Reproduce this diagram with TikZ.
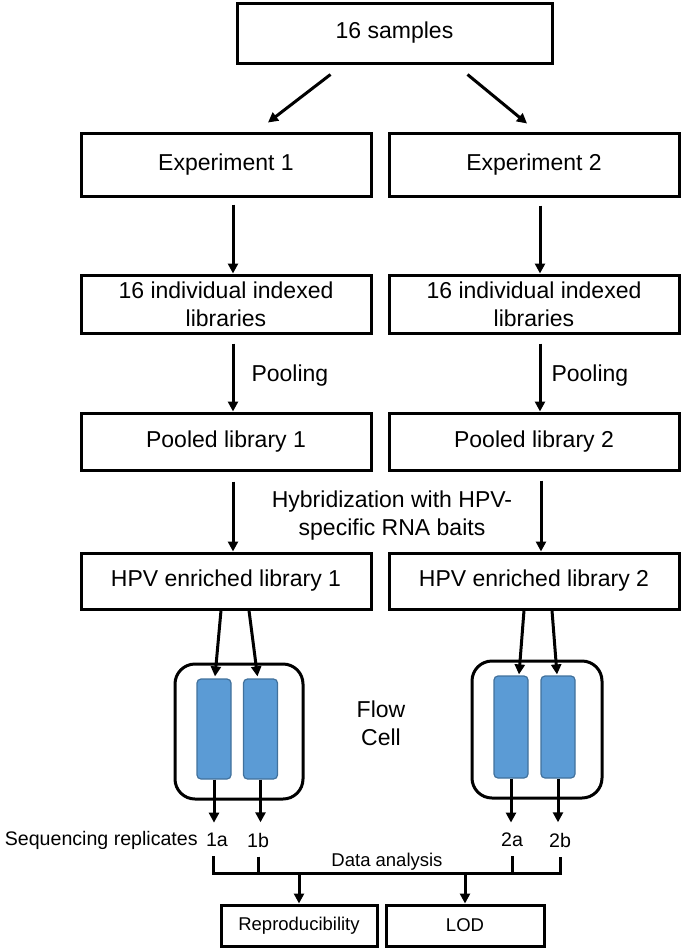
\documentclass[tikz,border=0pt]{standalone}
\usepackage{fontspec}
\setmainfont{Liberation Sans}
\usetikzlibrary{arrows.meta,calc,positioning}

\newcommand{\bigsize}{\fontsize{11.5}{14}\selectfont}
\newcommand{\midsize}{\fontsize{9.8}{12}\selectfont}
\newcommand{\smallsize}{\fontsize{9.25}{11}\selectfont}
\definecolor{lanefill}{RGB}{91,155,213}
\definecolor{lanedge}{RGB}{65,113,156}

\tikzset{
  box/.style={draw,line width=1.5pt,inner sep=0pt,align=center,font=\bigsize},
  note/.style={inner sep=0pt,align=center,font=\bigsize},
  lbl/.style={inner sep=1.5pt,font=\midsize},
  cell/.style={draw,line width=1.5pt,rounded corners=10pt},
  lane/.style={draw=lanedge,fill=lanefill,line width=0.6pt,rounded corners=2pt,minimum width=17pt,minimum height=50pt,inner sep=0pt},
}

\begin{document}
\begin{tikzpicture}[x=0.5pt,y=-0.5pt,>={Triangle[length=5pt,width=5pt]},line width=1.5pt]
\useasboundingbox (0,0) rectangle (685,948);
% boxes of the two experiments
\node[box,minimum width=157.5pt,minimum height=30pt] (samples) at (394.5,33) {16 samples};
\node[box,minimum width=145pt,minimum height=31.5pt] (exp1) at (226,164.5) {Experiment 1};
\node[box,minimum width=145pt,minimum height=31.5pt] (exp2) at (534,164.5) {Experiment 2};
\node[box,minimum width=145pt,minimum height=29pt] (lib1) at (226,304) {16 individual indexed\\libraries};
\node[box,minimum width=145pt,minimum height=29pt] (lib2) at (534,304) {16 individual indexed\\libraries};
\node[box,minimum width=145pt,minimum height=28.5pt] (pool1) at (226,441.5) {Pooled library 1};
\node[box,minimum width=145pt,minimum height=28.5pt] (pool2) at (534,441.5) {Pooled library 2};
\node[box,minimum width=145pt,minimum height=28pt] (hpv1) at (226,581) {HPV enriched library 1};
\node[box,minimum width=145pt,minimum height=28pt] (hpv2) at (534,581) {HPV enriched library 2};
\node[note,anchor=west] (poolingA) at (250,376) {Pooling};
\node[note,anchor=west] (poolingB) at (550,376) {Pooling};
\node[note] (hyb) at (392,516) {Hybridization with HPV-\\specific RNA baits};
\draw[->] ([xshift=-32pt,yshift=-5pt]samples.south) -- ([xshift=21pt,yshift=4.5pt]exp1.north);
\draw[->] ([xshift=36.5pt,yshift=-5pt]samples.south) -- ([xshift=-3.5pt,yshift=4pt]exp2.north);
\draw[->] ([xshift=3.5pt,yshift=-3.5pt]exp1.south) -- ([xshift=3.5pt]lib1.north);
\draw[->] ([xshift=3pt,yshift=-4pt]exp2.south) -- ([xshift=3pt]lib2.north);
\draw[->] ([xshift=3.5pt,yshift=-4.5pt]lib1.south) -- ([xshift=3.5pt]pool1.north);
\draw[->] ([xshift=3pt,yshift=-4.5pt]lib2.south) -- ([xshift=3pt]pool2.north);
\draw[->] ([xshift=3.5pt,yshift=-5pt]pool1.south) -- ([xshift=3.5pt]hpv1.north);
\draw[->] ([xshift=3.5pt,yshift=-4.5pt]pool2.south) -- ([xshift=3.5pt]hpv2.north);
% flow cells
\node[cell,minimum width=64pt,minimum height=67.5pt] (cell1) at (239,731.5) {};
\node[cell,minimum width=65pt,minimum height=68.5pt] (cell2) at (537,729.5) {};
\node[lane] (lane1a) at (214,729) {};
\node[lane] (lane1b) at (260.5,729) {};
\node[lane,minimum height=51pt] (lane2a) at (511,727) {};
\node[lane,minimum height=51pt] (lane2b) at (558,727) {};
\node[note] (flow) at (381,723.5) {Flow\\Cell};
\draw[->] ([xshift=-2.5pt]hpv1.south) -- ([xshift=0.5pt,yshift=1pt]lane1a.north);
\draw[->] ([xshift=11.5pt]hpv1.south) -- ([xshift=-1.5pt,yshift=1pt]lane1b.north);
\draw[->] ([xshift=-5pt]hpv2.south) -- ([xshift=4pt,yshift=0.5pt]lane2a.north);
\draw[->] ([xshift=9pt]hpv2.south) -- ([xshift=-0.5pt,yshift=0.5pt]lane2b.north);
% replicates and analysis
\node[lbl] (r1a) at (217,840) {1a};
\node[lbl,inner sep=0pt,left=1.2pt of r1a] (seq) {Sequencing replicates};
\node[lbl] (r1b) at (258,840) {1b};
\node[lbl] (r2a) at (512,840) {2a};
\node[lbl] (r2b) at (560,840) {2b};
\draw[->,shorten >=3pt] (lane1a.south) -- (lane1a.south |- r1a.north);
\draw[->,shorten >=3pt] (lane1b.south) -- (lane1b.south |- r1b.north);
\draw[->,shorten >=3pt] (lane2a.south) -- (lane2a.south |- r2a.north);
\draw[->,shorten >=3pt] (lane2b.south) -- (lane2b.south |- r2b.north);
\coordinate (bus) at (0,873);
\draw ([xshift=-2pt,yshift=-2.5pt]r1a.south) -- ([xshift=-2pt]r1a.south |- bus) -- (r2b.south |- bus) -- ([yshift=-2.5pt]r2b.south);
\draw ([yshift=-2.5pt]r1b.south) -- (r1b.south |- bus);
\draw ([yshift=-2.5pt]r2a.south) -- (r2a.south |- bus);
\node[note,font=\smallsize] (data) at (387,862) {Data analysis};
\node[box,font=\smallsize,minimum width=78pt,minimum height=20.5pt] (repro) at (299,925.5) {Reproducibility};
\node[box,font=\smallsize,minimum width=79pt,minimum height=20.5pt] (lod) at (465,925.5) {LOD};
\draw[->] (repro.north |- bus) -- (repro.north);
\draw[->] (lod.north |- bus) -- (lod.north);
\end{tikzpicture}
\end{document}
